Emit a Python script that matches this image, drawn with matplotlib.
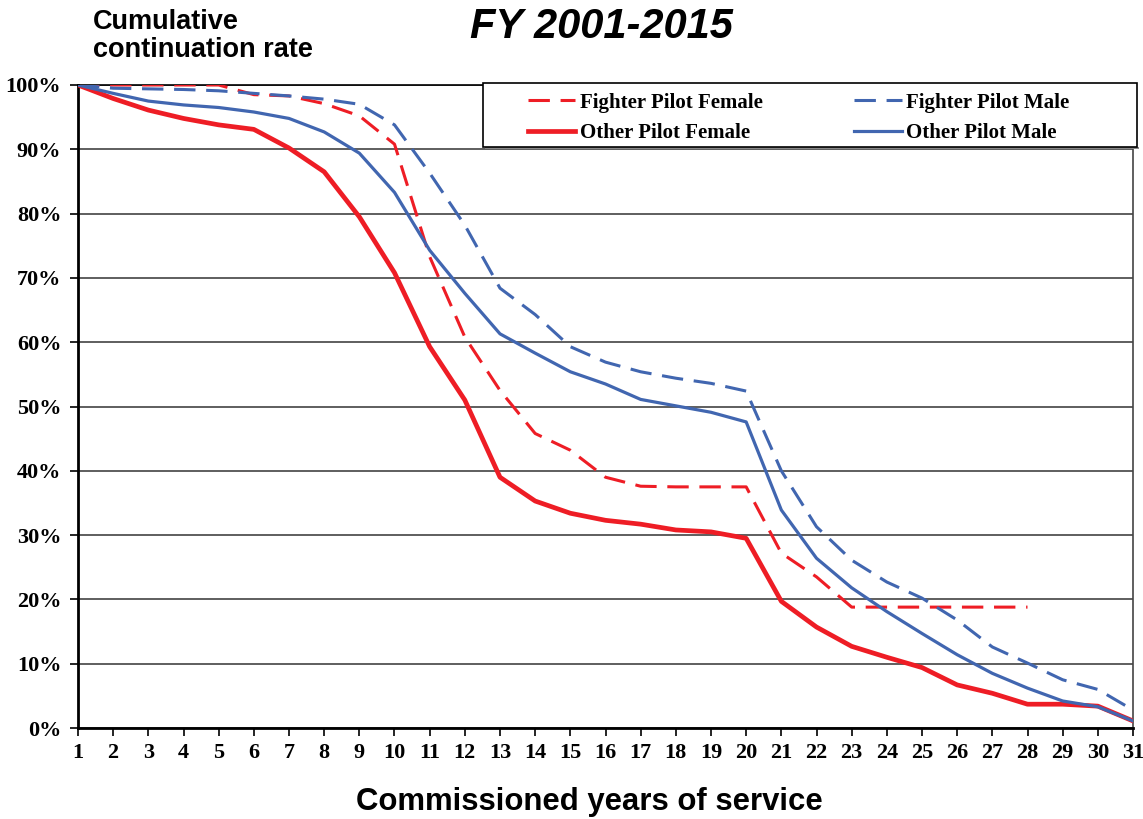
import matplotlib
matplotlib.use("Agg")
import matplotlib.pyplot as plt
from matplotlib.patches import Rectangle

years = list(range(1, 32))

fighter_female = [100, 100, 100, 100, 100, 98.5, 98.3, 97.1, 95.2, 90.8,
                  73.3, 60.8, 52.5, 45.8, 43.2, 39.0, 37.6, 37.5, 37.5, 37.5,
                  27.2, 23.5, 18.8, 18.8, 18.8, 18.8, 18.8, 18.8]
fighter_male = [100, 99.5, 99.4, 99.3, 99.1, 98.7, 98.3, 97.8, 97.0, 93.8,
                86.3, 78.2, 68.4, 64.3, 59.3, 56.9, 55.4, 54.4, 53.6, 52.4,
                40.0, 31.3, 26.1, 22.7, 20.2, 16.8, 12.6, 10.1, 7.5, 6.0, 2.8]
other_female = [100, 97.9, 96.1, 94.8, 93.8, 93.1, 90.2, 86.5, 79.5, 70.8,
                59.3, 51.0, 39.0, 35.3, 33.4, 32.3, 31.7, 30.8, 30.5, 29.5,
                19.7, 15.7, 12.7, 11.0, 9.4, 6.7, 5.4, 3.7, 3.7, 3.4, 1.1]
other_male = [100, 98.7, 97.5, 96.9, 96.5, 95.8, 94.8, 92.7, 89.4, 83.3,
              74.3, 67.6, 61.3, 58.3, 55.4, 53.5, 51.1, 50.1, 49.1, 47.6,
              33.9, 26.4, 21.8, 18.1, 14.7, 11.4, 8.5, 6.2, 4.2, 3.3, 1.1]

RED = "#EE1D25"
BLUE = "#4166B0"

fig = plt.figure(figsize=(11.43, 8.19), dpi=100)
ax = fig.add_axes([78/1143, 1-728/819, (1133-78)/1143, (728-85)/819])

l_ff, = ax.plot(years[:len(fighter_female)], fighter_female, color=RED, lw=2.2,
                dashes=(7, 3.5), zorder=3)
l_fm, = ax.plot(years, fighter_male, color=BLUE, lw=2.2, dashes=(7, 3.5), zorder=3)
l_of, = ax.plot(years, other_female, color=RED, lw=3.4, zorder=3)
l_om, = ax.plot(years, other_male, color=BLUE, lw=2.3, zorder=3)

ax.set_xlim(1, 31)
ax.set_ylim(0, 100)
ax.set_xticks(years)
ax.set_xticklabels([str(y) for y in years])
ax.set_yticks(range(0, 101, 10))
ax.set_yticklabels([f"{v}%" for v in range(0, 101, 10)])
for t in ax.get_xticklabels() + ax.get_yticklabels():
    t.set_family("Liberation Serif")
    t.set_weight("bold")
    t.set_fontsize(16)
ax.tick_params(axis="both", direction="out", length=6, width=1.2, colors="black")
ax.tick_params(axis="y", pad=6)
ax.tick_params(axis="x", pad=5)
ax.yaxis.grid(True, color="#333333", lw=1.1)
ax.set_axisbelow(True)
for s in ["left", "bottom"]:
    ax.spines[s].set_linewidth(2.0)
    ax.spines[s].set_color("black")
ax.spines["top"].set_linewidth(1.2)
ax.spines["right"].set_linewidth(1.2)
ax.spines["right"].set_color("#444444")

fig.text(93/1143, 1-9/819, "Cumulative\ncontinuation rate", ha="left", va="top",
         family="Liberation Sans", weight="bold", fontsize=19.5, linespacing=1.1)
fig.text(601/1143, 1-27/819, "FY 2001-2015", ha="center", va="center",
         family="Liberation Sans", weight="bold", style="italic", fontsize=30)
fig.text(589/1143, 1-802/819, "Commissioned years of service", ha="center", va="center",
         family="Liberation Sans", weight="bold", fontsize=22.4)

# legend frame
fig.patches.append(Rectangle((483/1143, 1-147/819), (1137-483)/1143, (147-83)/819,
                             transform=fig.transFigure, facecolor="white",
                             edgecolor="black", lw=1.2, zorder=5))
fig.patches.append(Rectangle((485/1143, 1-149/819), (1137-483)/1143, 2/819,
                             transform=fig.transFigure, facecolor="#888888",
                             edgecolor="none", zorder=4))
leg = fig.legend([l_ff, l_of, l_fm, l_om],
                 ["Fighter Pilot Female", "Other Pilot Female",
                  "Fighter Pilot Male", "Other Pilot Male"],
                 ncol=2, frameon=False, loc="upper left",
                 bbox_to_anchor=(513/1143, 1-78/819),
                 prop=dict(family="Liberation Serif", weight="bold", size=15),
                 handlelength=2.3, handletextpad=0.2, columnspacing=4.4,
                 labelspacing=0.5, borderpad=0.2)
leg.set_zorder(6)

fig.savefig("out.png", dpi=100)
